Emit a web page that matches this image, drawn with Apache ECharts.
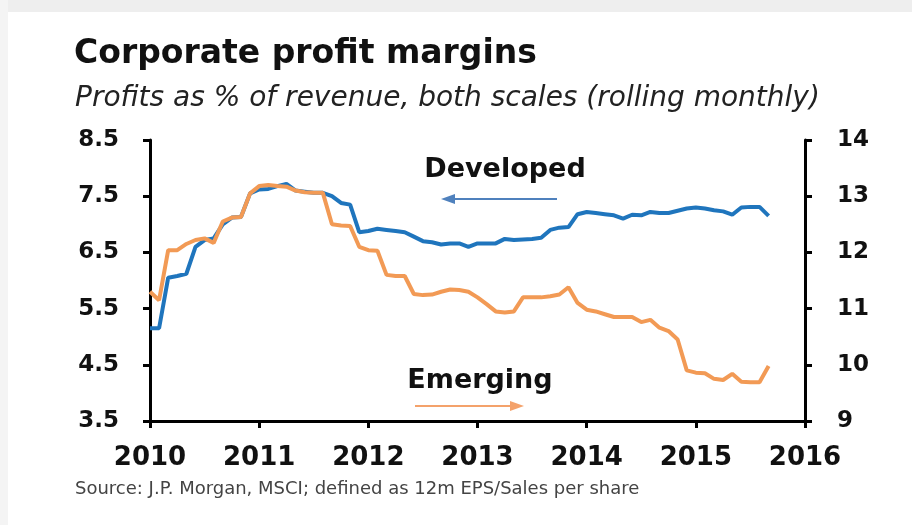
<!DOCTYPE html>
<html>
<head>
<meta charset="utf-8">
<script src="https://cdn.jsdelivr.net/npm/echarts@6/dist/echarts.min.js"></script>
<style>
  html, body { margin: 0; padding: 0; background: #fff; }
  #chart { width: 912px; height: 525px; }
</style>
</head>
<body>
<div id="chart"></div>
<script>
// monthly readings, Jan 2010 .. Sep 2015
var startYear = 2010;
var xTicks = [2010, 2011, 2012, 2013, 2014, 2015, 2016];
var leftTicks = [3.5, 4.5, 5.5, 6.5, 7.5, 8.5];
var rightTicks = [9, 10, 11, 12, 13, 14];

// Developed, left scale
var developed = [
    5.15, 5.15, 6.05, 6.08, 6.12, 6.60, 6.72, 6.75, 7.00, 7.12, 7.13, 7.55,
    7.62, 7.63, 7.68, 7.72, 7.60, 7.58, 7.56, 7.56, 7.50, 7.38, 7.35, 6.86,
    6.88, 6.92, 6.90, 6.88, 6.86, 6.78, 6.70, 6.68, 6.64, 6.66, 6.66, 6.60,
    6.66, 6.66, 6.66, 6.74, 6.72, 6.73, 6.74, 6.76, 6.90, 6.94, 6.95, 7.18,
    7.22, 7.20, 7.18, 7.16, 7.10, 7.17, 7.16, 7.22, 7.20, 7.20, 7.24, 7.28,
    7.30, 7.28, 7.25, 7.23, 7.17, 7.30, 7.31, 7.31, 7.15
];
// Emerging, right scale
var emerging = [
    11.30, 11.15, 12.04, 12.04, 12.15, 12.22, 12.25, 12.17, 12.55, 12.62, 12.63, 13.05,
    13.18, 13.20, 13.18, 13.17, 13.10, 13.07, 13.06, 13.06, 12.50, 12.48, 12.47, 12.10,
    12.04, 12.03, 11.60, 11.58, 11.58, 11.26, 11.24, 11.25, 11.30, 11.34, 11.33, 11.30,
    11.20, 11.08, 10.95, 10.93, 10.95, 11.20, 11.20, 11.20, 11.22, 11.25, 11.38, 11.10,
    10.98, 10.95, 10.90, 10.85, 10.85, 10.85, 10.76, 10.80, 10.66, 10.60, 10.45, 9.90,
    9.86, 9.85, 9.75, 9.73, 9.84, 9.70, 9.69, 9.69, 9.98
];

function toPairs(arr) {
    return arr.map(function(v, i) { return [startYear + i / 12, v]; });
}

var labelFont = 'DejaVu Sans';
var myChart = echarts.init(document.getElementById('chart'));

var option = {
    backgroundColor: '#ffffff',
    animation: false,
    grid: { left: 150, right: 107, top: 140, bottom: 104 },
    xAxis: {
        type: 'value',
        min: xTicks[0],
        max: xTicks[xTicks.length - 1],
        interval: 1,
        splitLine: { show: false },
        axisLine: { lineStyle: { color: '#000', width: 3 } },
        axisTick: { length: 7, lineStyle: { color: '#000', width: 3 } },
        axisLabel: {
            margin: 24,
            color: '#111',
            fontFamily: labelFont,
            fontWeight: 'bold',
            fontSize: 26,
            formatter: function(v) { return String(Math.round(v)); }
        }
    },
    yAxis: [{
        type: 'value',
        min: leftTicks[0],
        max: leftTicks[leftTicks.length - 1],
        interval: 1,
        splitLine: { show: false },
        axisLine: { show: true, lineStyle: { color: '#000', width: 3 } },
        axisTick: { show: true, length: 7, lineStyle: { color: '#000', width: 3 } },
        axisLabel: {
            margin: 31,
            color: '#111',
            fontFamily: labelFont,
            fontWeight: 'bold',
            fontSize: 23,
            formatter: function(v) { return v.toFixed(1); }
        }
    }, {
        type: 'value',
        position: 'right',
        min: rightTicks[0],
        max: rightTicks[rightTicks.length - 1],
        interval: 1,
        splitLine: { show: false },
        axisLine: { show: true, lineStyle: { color: '#000', width: 3 } },
        axisTick: { show: true, length: 7, lineStyle: { color: '#000', width: 3 } },
        axisLabel: {
            margin: 32,
            color: '#111',
            fontFamily: labelFont,
            fontWeight: 'bold',
            fontSize: 23
        }
    }],
    series: [{
        name: 'Developed',
        type: 'line',
        yAxisIndex: 0,
        data: toPairs(developed),
        showSymbol: false,
        lineStyle: { color: '#1f75bd', width: 4 },
        z: 2
    }, {
        name: 'Emerging',
        type: 'line',
        yAxisIndex: 1,
        data: toPairs(emerging),
        showSymbol: false,
        lineStyle: { color: '#f29a55', width: 4 },
        z: 3
    }],
    graphic: [
        // page frame
        { type: 'rect', shape: { x: 0, y: 0, width: 912, height: 12 }, style: { fill: '#eeeeee' }, silent: true },
        { type: 'rect', shape: { x: 0, y: 0, width: 8, height: 525 }, style: { fill: '#f4f4f4' }, silent: true },
        // titles
        {
            type: 'text', left: 74, top: 38,
            style: { text: 'Corporate profit margins', fontFamily: labelFont, fontWeight: 'bold', fontSize: 33, fill: '#111' }
        },
        {
            type: 'text', left: 75, top: 85,
            style: { text: 'Profits as % of revenue, both scales (rolling monthly)', fontFamily: labelFont, fontStyle: 'italic', fontSize: 28, fill: '#222' }
        },
        // annotations
        {
            type: 'text', x: 505, y: 170,
            style: { text: 'Developed', fontFamily: labelFont, fontWeight: 'bold', fontSize: 27, fill: '#111', align: 'center', verticalAlign: 'middle' }
        },
        { type: 'line', shape: { x1: 557, y1: 199, x2: 450, y2: 199 }, style: { stroke: '#4f81bd', lineWidth: 2 } },
        { type: 'polygon', shape: { points: [[441, 199], [455, 194], [455, 204]] }, style: { fill: '#4f81bd' } },
        {
            type: 'text', x: 480, y: 381,
            style: { text: 'Emerging', fontFamily: labelFont, fontWeight: 'bold', fontSize: 27, fill: '#111', align: 'center', verticalAlign: 'middle' }
        },
        { type: 'line', shape: { x1: 415, y1: 406, x2: 514, y2: 406 }, style: { stroke: '#f4a26b', lineWidth: 2 } },
        { type: 'polygon', shape: { points: [[524, 406], [510, 401], [510, 411]] }, style: { fill: '#f4a26b' } },
        // source
        {
            type: 'text', left: 75, top: 480,
            style: { text: 'Source: J.P. Morgan, MSCI; defined as 12m EPS/Sales per share', fontFamily: labelFont, fontSize: 18, fill: '#444' }
        }
    ]
};
myChart.setOption(option);
</script>
</body>
</html>
